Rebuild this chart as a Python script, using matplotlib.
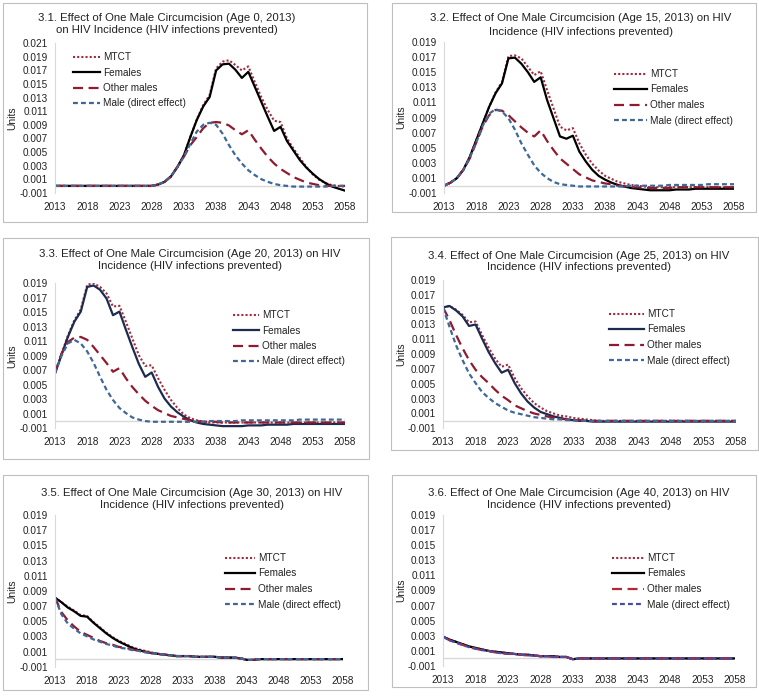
import numpy as np
import matplotlib
matplotlib.use('Agg')
import matplotlib.pyplot as plt
from matplotlib.patches import Rectangle

plt.rcParams['font.family'] = ['Liberation Sans', 'DejaVu Sans']

W, H = 759, 698

years = list(range(2013, 2059))
year_ticks = [2013, 2018, 2023, 2028, 2033, 2038, 2043, 2048, 2053, 2058]
labels = ['MTCT', 'Females', 'Other males', 'Male (direct effect)']

titles = [
    ('3.1. Effect of One Male Circumcision (Age 0, 2013)', 'on HIV Incidence (HIV infections prevented)'),
    ('3.2. Effect of One Male Circumcision (Age 15, 2013) on HIV', 'Incidence (HIV infections prevented)'),
    ('3.3. Effect of One Male Circumcision (Age 20, 2013) on HIV', 'Incidence (HIV infections prevented)'),
    ('3.4. Effect of One Male Circumcision (Age 25, 2013) on HIV', 'Incidence (HIV infections prevented)'),
    ('3.5. Effect of One Male Circumcision (Age 30, 2013) on HIV', 'Incidence (HIV infections prevented)'),
    ('3.6. Effect of One Male Circumcision (Age 40, 2013) on HIV', 'Incidence (HIV infections prevented)'),
]

# --- 3.1 age 0 ---
mtct_1 = [0.0, 0.0, 0.0, 0.0, 0.0, 0.0, 0.0, 0.0, 0.0, 0.0, 0.0, 0.0, 0.0, 0.0, 0.0,
          0.0, 0.0002, 0.0006, 0.0014, 0.0028, 0.0045, 0.0072, 0.0098, 0.0119, 0.0134, 0.0173,
          0.0183, 0.0185, 0.0178, 0.0170, 0.0176, 0.0153, 0.0131, 0.0112, 0.0096, 0.0094,
          0.0070, 0.0055, 0.0041, 0.0028, 0.0017, 0.0009, 0.0004, 0.0001, 0.0, -0.0001]
fem_1 = [0.0, 0.0, 0.0, 0.0, 0.0, 0.0, 0.0, 0.0, 0.0, 0.0, 0.0, 0.0, 0.0, 0.0, 0.0,
         0.0, 0.0002, 0.0006, 0.0014, 0.0028, 0.0045, 0.0072, 0.0097, 0.0117, 0.0131, 0.0170,
         0.0179, 0.0180, 0.0171, 0.0159, 0.0168, 0.0146, 0.0124, 0.0102, 0.0081, 0.0087,
         0.0066, 0.0052, 0.0038, 0.0027, 0.0018, 0.0010, 0.0004, -0.0001, -0.0004, -0.0007]
oth_1 = [0.0, 0.0, 0.0, 0.0, 0.0, 0.0, 0.0, 0.0, 0.0, 0.0, 0.0, 0.0, 0.0, 0.0, 0.0,
         0.0, 0.0002, 0.0006, 0.0014, 0.0028, 0.0043, 0.0060, 0.0072, 0.0085, 0.0093, 0.0094,
         0.0093, 0.0089, 0.0082, 0.0076, 0.0082, 0.0068, 0.0055, 0.0043, 0.0033, 0.0025,
         0.0019, 0.0013, 0.0009, 0.0005, 0.0003, 0.0001, 0.0, 0.0, 0.0, 0.0]
male_1 = [0.0, 0.0, 0.0, 0.0, 0.0, 0.0, 0.0, 0.0, 0.0, 0.0, 0.0, 0.0, 0.0, 0.0, 0.0,
          0.0, 0.0002, 0.0006, 0.0014, 0.0028, 0.0043, 0.0062, 0.0080, 0.0090, 0.0093, 0.0090,
          0.0077, 0.0060, 0.0045, 0.0033, 0.0023, 0.0016, 0.0010, 0.0006, 0.0003, 0.0001,
          0.0, -0.0001, -0.0001, -0.0001, -0.0001, -0.0001, -0.0001, 0.0, 0.0, 0.0]

# --- 3.2 age 15 ---
mtct_2 = [0.0, 0.0004, 0.0010, 0.0021, 0.0038, 0.0060, 0.0082, 0.0104, 0.0123, 0.0137,
          0.0171, 0.0172, 0.0168, 0.0157, 0.0146, 0.0151, 0.0126, 0.0102, 0.0078, 0.0073,
          0.0076, 0.0056, 0.0041, 0.0029, 0.0020, 0.0013, 0.0009, 0.0005, 0.0003, 0.0001,
          0.0, -0.0001, -0.0002, -0.0002, -0.0002, -0.0002, -0.0002, -0.0002, -0.0002,
          -0.0002, -0.0002, -0.0002, -0.0002, -0.0002, -0.0002, -0.0002]
fem_2 = [0.0, 0.0004, 0.0010, 0.0021, 0.0038, 0.0060, 0.0082, 0.0104, 0.0122, 0.0135,
         0.0168, 0.0169, 0.0161, 0.0150, 0.0137, 0.0143, 0.0113, 0.0089, 0.0065, 0.0062,
         0.0066, 0.0045, 0.0032, 0.0021, 0.0013, 0.0008, 0.0004, 0.0001, -0.0001, -0.0003,
         -0.0004, -0.0005, -0.0006, -0.0006, -0.0006, -0.0006, -0.0005, -0.0005, -0.0005,
         -0.0004, -0.0004, -0.0004, -0.0004, -0.0004, -0.0004, -0.0004]
oth_2 = [0.0, 0.0004, 0.0010, 0.0021, 0.0036, 0.0057, 0.0078, 0.0093, 0.0100, 0.0099,
         0.0093, 0.0085, 0.0077, 0.0070, 0.0065, 0.0073, 0.0059, 0.0047, 0.0036, 0.0029,
         0.0022, 0.0015, 0.0011, 0.0007, 0.0005, 0.0003, 0.0002, 0.0, -0.0001, -0.0002,
         -0.0002, -0.0003, -0.0003, -0.0003, -0.0003, -0.0003, -0.0002, -0.0002, -0.0002,
         -0.0002, -0.0002, -0.0002, -0.0002, -0.0002, -0.0002, -0.0002]
male_2 = [0.0, 0.0004, 0.0010, 0.0021, 0.0037, 0.0057, 0.0079, 0.0095, 0.0101, 0.0098,
          0.0089, 0.0074, 0.0056, 0.0041, 0.0027, 0.0017, 0.0010, 0.0005, 0.0002, 0.0001,
          0.0, -0.0001, -0.0001, -0.0001, -0.0001, -0.0001, -0.0001, -0.0001, -0.0001, 0.0,
          0.0, 0.0, 0.0, 0.0, 0.0, 0.0001, 0.0001, 0.0001, 0.0001, 0.0001,
          0.0001, 0.0002, 0.0002, 0.0002, 0.0002, 0.0002]

# --- 3.3 age 20 ---
mtct_3 = [0.0066, 0.0092, 0.0118, 0.0139, 0.0154, 0.0188, 0.0190, 0.0185, 0.0176, 0.0158,
          0.0159, 0.0137, 0.0114, 0.0091, 0.0076, 0.0077, 0.0059, 0.0043, 0.0029, 0.0018,
          0.0009, 0.0004, 0.0001, -0.0001, -0.0002, -0.0002, -0.0002, -0.0002, -0.0002, -0.0002,
          -0.0002, -0.0002, -0.0002, -0.0002, -0.0002, -0.0002, -0.0002, -0.0002, -0.0002,
          -0.0002, -0.0002, -0.0002, -0.0002, -0.0002, -0.0002, -0.0002]
fem_3 = [0.0066, 0.0091, 0.0116, 0.0137, 0.0151, 0.0185, 0.0187, 0.0181, 0.0169, 0.0146,
         0.0151, 0.0126, 0.0102, 0.0079, 0.0061, 0.0067, 0.0047, 0.0031, 0.0020, 0.0012,
         0.0006, 0.0001, -0.0002, -0.0004, -0.0005, -0.0006, -0.0007, -0.0007, -0.0007, -0.0007,
         -0.0006, -0.0006, -0.0006, -0.0005, -0.0005, -0.0005, -0.0005, -0.0004, -0.0004,
         -0.0004, -0.0004, -0.0004, -0.0004, -0.0004, -0.0004, -0.0004]
oth_3 = [0.0066, 0.0093, 0.0109, 0.0115, 0.0116, 0.0112, 0.0102, 0.0091, 0.0080, 0.0068,
         0.0073, 0.0059, 0.0047, 0.0037, 0.0028, 0.0021, 0.0015, 0.0011, 0.0007, 0.0005,
         0.0003, 0.0001, 0.0, -0.0001, -0.0001, -0.0001, -0.0002, -0.0002, -0.0002, -0.0002,
         -0.0002, -0.0002, -0.0002, -0.0002, -0.0002, -0.0002, -0.0002, -0.0002, -0.0002,
         -0.0002, -0.0002, -0.0002, -0.0002, -0.0002, -0.0002, -0.0002]
male_3 = [0.0066, 0.0090, 0.0107, 0.0112, 0.0107, 0.0096, 0.0080, 0.0061, 0.0043, 0.0029,
          0.0018, 0.0011, 0.0005, 0.0002, 0.0, -0.0001, -0.0001, -0.0001, -0.0001, -0.0001,
          -0.0001, -0.0001, -0.0001, -0.0001, 0.0, 0.0, 0.0, 0.0, 0.0, 0.0001,
          0.0001, 0.0001, 0.0001, 0.0001, 0.0001, 0.0001, 0.0001, 0.0001, 0.0002,
          0.0002, 0.0002, 0.0002, 0.0002, 0.0002, 0.0002, 0.0002]

# --- 3.4 age 25 ---
mtct_4 = [0.0153, 0.0155, 0.0150, 0.0143, 0.0133, 0.0134, 0.0116, 0.0099, 0.0084, 0.0073,
          0.0076, 0.0058, 0.0044, 0.0033, 0.0024, 0.0018, 0.0013, 0.0010, 0.0007, 0.0006,
          0.0004, 0.0003, 0.0002, 0.0001, 0.0, 0.0, 0.0, 0.0, 0.0, 0.0,
          0.0, 0.0, 0.0, 0.0, 0.0, 0.0, 0.0, 0.0, 0.0, 0.0, 0.0, 0.0, 0.0, 0.0, 0.0, 0.0]
fem_4 = [0.0153, 0.0155, 0.0149, 0.0141, 0.0128, 0.0130, 0.0111, 0.0093, 0.0078, 0.0065,
         0.0069, 0.0051, 0.0037, 0.0026, 0.0018, 0.0012, 0.0009, 0.0006, 0.0004, 0.0002,
         0.0001, 0.0, 0.0, -0.0001, -0.0001, -0.0001, -0.0001, -0.0001, -0.0001, -0.0001,
         -0.0001, -0.0001, -0.0001, -0.0001, -0.0001, -0.0001, -0.0001, -0.0001, -0.0001,
         -0.0001, -0.0001, -0.0001, -0.0001, -0.0001, -0.0001, -0.0001]
oth_4 = [0.0153, 0.0136, 0.0116, 0.0098, 0.0082, 0.0069, 0.0059, 0.0051, 0.0042, 0.0034,
         0.0028, 0.0021, 0.0017, 0.0013, 0.0010, 0.0008, 0.0006, 0.0004, 0.0003, 0.0002,
         0.0001, 0.0001, 0.0, 0.0, 0.0, 0.0, 0.0, 0.0, 0.0, 0.0,
         0.0, 0.0, 0.0, 0.0, 0.0, 0.0, 0.0, 0.0, 0.0, 0.0, 0.0, 0.0, 0.0, 0.0, 0.0, 0.0]
male_4 = [0.0153, 0.0127, 0.0102, 0.0082, 0.0064, 0.0051, 0.0039, 0.0031, 0.0024, 0.0019,
          0.0014, 0.0011, 0.0009, 0.0007, 0.0005, 0.0004, 0.0003, 0.0002, 0.0002, 0.0001,
          0.0001, 0.0, 0.0, 0.0, 0.0, 0.0, 0.0, 0.0, 0.0, 0.0,
          0.0, 0.0, 0.0, 0.0, 0.0, 0.0, 0.0, 0.0, 0.0, 0.0, 0.0, 0.0, 0.0, 0.0, 0.0, 0.0]

# --- 3.5 age 30 ---
mtct_5 = [0.0081, 0.0075, 0.0069, 0.0064, 0.0058, 0.0057, 0.0049, 0.0042, 0.0035, 0.0029,
          0.0024, 0.0020, 0.0016, 0.0013, 0.0011, 0.0009, 0.0007, 0.0006, 0.0005, 0.0004,
          0.0004, 0.0004, 0.0003, 0.0003, 0.0003, 0.0003, 0.0002, 0.0002, 0.0002, 0.0001,
          -0.0001, -0.0001, 0.0, 0.0, 0.0, 0.0, 0.0, 0.0, 0.0, 0.0, 0.0, 0.0, 0.0, 0.0, 0.0, 0.0]
fem_5 = [0.0081, 0.0075, 0.0068, 0.0063, 0.0057, 0.0056, 0.0048, 0.0041, 0.0034, 0.0028,
         0.0023, 0.0019, 0.0015, 0.0012, 0.0010, 0.0008, 0.0007, 0.0006, 0.0005, 0.0004,
         0.0004, 0.0004, 0.0003, 0.0003, 0.0003, 0.0003, 0.0002, 0.0002, 0.0002, 0.0001,
         -0.0001, -0.0001, 0.0, 0.0, 0.0, 0.0, 0.0, 0.0, 0.0, 0.0, 0.0, 0.0, 0.0, 0.0, 0.0, 0.0]
oth_5 = [0.0081, 0.0062, 0.0051, 0.0043, 0.0036, 0.0032, 0.0028, 0.0024, 0.0021, 0.0019,
         0.0016, 0.0015, 0.0013, 0.0011, 0.0010, 0.0008, 0.0007, 0.0006, 0.0005, 0.0004,
         0.0004, 0.0004, 0.0003, 0.0003, 0.0003, 0.0003, 0.0002, 0.0002, 0.0002, 0.0001,
         -0.0001, -0.0001, 0.0, 0.0, 0.0, 0.0, 0.0, 0.0, 0.0, 0.0, 0.0, 0.0, 0.0, 0.0, 0.0, 0.0]
male_5 = [0.0081, 0.0059, 0.0047, 0.0040, 0.0034, 0.0030, 0.0026, 0.0023, 0.0020, 0.0018,
          0.0015, 0.0014, 0.0012, 0.0011, 0.0009, 0.0008, 0.0007, 0.0006, 0.0005, 0.0004,
          0.0004, 0.0004, 0.0003, 0.0003, 0.0003, 0.0003, 0.0002, 0.0002, 0.0002, 0.0001,
          -0.0001, -0.0001, 0.0, 0.0, 0.0, 0.0, 0.0, 0.0, 0.0, 0.0, 0.0, 0.0, 0.0, 0.0, 0.0, 0.0]

# --- 3.6 age 40 ---
mtct_6 = [0.0029, 0.0025, 0.0022, 0.0019, 0.0016, 0.0014, 0.0012, 0.0010, 0.0009, 0.0008,
          0.0007, 0.0006, 0.0005, 0.0005, 0.0004, 0.0003, 0.0003, 0.0003, 0.0002, 0.0002,
          -0.0001, 0.0, 0.0, 0.0, 0.0, 0.0, 0.0, 0.0, 0.0, 0.0,
          0.0, 0.0, 0.0, 0.0, 0.0, 0.0, 0.0, 0.0, 0.0, 0.0, 0.0, 0.0, 0.0, 0.0, 0.0, 0.0]
fem_6 = [0.0029, 0.0025, 0.0022, 0.0019, 0.0016, 0.0014, 0.0012, 0.0010, 0.0009, 0.0008,
         0.0007, 0.0006, 0.0005, 0.0005, 0.0004, 0.0003, 0.0003, 0.0003, 0.0002, 0.0002,
         -0.0001, 0.0, 0.0, 0.0, 0.0, 0.0, 0.0, 0.0, 0.0, 0.0,
         0.0, 0.0, 0.0, 0.0, 0.0, 0.0, 0.0, 0.0, 0.0, 0.0, 0.0, 0.0, 0.0, 0.0, 0.0, 0.0]
oth_6 = [0.0029, 0.0024, 0.0021, 0.0018, 0.0015, 0.0013, 0.0011, 0.0010, 0.0008, 0.0007,
         0.0006, 0.0006, 0.0005, 0.0004, 0.0004, 0.0003, 0.0003, 0.0002, 0.0002, 0.0002,
         -0.0001, 0.0, 0.0, 0.0, 0.0, 0.0, 0.0, 0.0, 0.0, 0.0,
         0.0, 0.0, 0.0, 0.0, 0.0, 0.0, 0.0, 0.0, 0.0, 0.0, 0.0, 0.0, 0.0, 0.0, 0.0, 0.0]
male_6 = [0.0029, 0.0024, 0.0021, 0.0018, 0.0015, 0.0013, 0.0011, 0.0010, 0.0008, 0.0007,
          0.0006, 0.0006, 0.0005, 0.0004, 0.0004, 0.0003, 0.0003, 0.0002, 0.0002, 0.0002,
          -0.0001, 0.0, 0.0, 0.0, 0.0, 0.0, 0.0, 0.0, 0.0, 0.0,
          0.0, 0.0, 0.0, 0.0, 0.0, 0.0, 0.0, 0.0, 0.0, 0.0, 0.0, 0.0, 0.0, 0.0, 0.0, 0.0]

series = [
    (mtct_1, fem_1, oth_1, male_1),
    (mtct_2, fem_2, oth_2, male_2),
    (mtct_3, fem_3, oth_3, male_3),
    (mtct_4, fem_4, oth_4, male_4),
    (mtct_5, fem_5, oth_5, male_5),
    (mtct_6, fem_6, oth_6, male_6),
]

# layout in pixels: box (l,t,r,b), plot (l,t,r,b), ymax, title center x, title y's,
# units x, legend (x, y top, handlelength px)
layout = [
    dict(box=(3, 3, 367, 222), plot=(55, 43.3, 345, 192.7), ymax=0.021, tx=167, ty=(18, 30),
         ux=12, leg=(73, 52, 27)),
    dict(box=(392, 3, 756, 212), plot=(444, 41.7, 734, 193.3), ymax=0.019, tx=581, ty=(18, 32),
         ux=401, leg=(614, 69, 33)),
    dict(box=(3, 238, 369, 459), plot=(55, 283.3, 345, 428.3), ymax=0.019, tx=190, ty=(254, 266),
         ux=12, leg=(233, 310, 26)),
    dict(box=(391, 237, 758, 450), plot=(443, 280, 736, 428.3), ymax=0.019, tx=579, ty=(256, 267),
         ux=401, leg=(609, 309, 35)),
    dict(box=(3, 475, 368, 690), plot=(55, 515, 343, 666.7), ymax=0.019, tx=192, ty=(493, 505),
         ux=12, leg=(225, 553, 30)),
    dict(box=(392, 475, 756, 687), plot=(443, 515, 735, 666), ymax=0.019, tx=579, ty=(493, 505),
         ux=401, leg=(612, 553, 32)),
]

red_dot = '#A02B3F'
red_dash = '#8E1B2E'
blue_dash = '#3F6899'
colors = [
    (red_dot, 'black', red_dash, blue_dash),
    (red_dot, 'black', red_dash, blue_dash),
    (red_dot, '#1C2B4E', red_dash, blue_dash),
    (red_dot, '#1C2B4E', red_dash, blue_dash),
    (red_dot, 'black', red_dash, blue_dash),
    (red_dot, 'black', '#B02A35', '#4B4BA6'),
]

fig = plt.figure(figsize=(W / 100, H / 100), dpi=100)
fs_tick = 7.2
fs_title = 8.2

for i, lay in enumerate(layout):
    bl, bt, br, bb = lay['box']
    fig.patches.append(Rectangle((bl / W, 1 - bb / H), (br - bl) / W, (bb - bt) / H,
                                 transform=fig.transFigure, fill=False,
                                 edgecolor='#BFBFBF', linewidth=0.8))
    pl, pt, pr, pb = lay['plot']
    ax = fig.add_axes([pl / W, 1 - pb / H, (pr - pl) / W, (pb - pt) / H])

    mt, fe, ot, ma = series[i]
    c = colors[i]
    ax.plot(years, mt, color=c[0], lw=1.5, linestyle=(0, (1, 1)), label=labels[0])
    ax.plot(years, fe, color=c[1], lw=1.6, label=labels[1])
    ax.plot(years, ot, color=c[2], lw=1.6, linestyle=(0, (4.5, 2.5)), label=labels[2])
    ax.plot(years, ma, color=c[3], lw=1.6, linestyle=(0, (2.2, 1.4)), label=labels[3])

    ax.axhline(0, color='#D9D9D9', lw=1.0, zorder=0)
    ax.set_xlim(2013, 2058)
    ax.set_ylim(-0.001, lay['ymax'])
    yt = np.arange(-0.001, lay['ymax'] + 0.0005, 0.002)
    ax.set_yticks(yt)
    ax.set_yticklabels(['%.3f' % v for v in yt])
    ax.set_xticks(year_ticks)
    ax.tick_params(length=0, labelsize=fs_tick, colors='#222222')
    ax.tick_params(axis='y', pad=5)
    ax.tick_params(axis='x', pad=6.5)
    for s in ['top', 'right', 'bottom']:
        ax.spines[s].set_visible(False)
    ax.spines['left'].set_color('#D9D9D9')
    ax.spines['left'].set_linewidth(0.8)
    ax.patch.set_alpha(0)

    fig.text(lay['tx'] / W, 1 - lay['ty'][0] / H, titles[i][0], ha='center', va='center',
             fontsize=fs_title, color='#222222')
    fig.text(lay['tx'] / W, 1 - lay['ty'][1] / H, titles[i][1], ha='center', va='center',
             fontsize=fs_title, color='#222222')
    fig.text(lay['ux'] / W, 1 - ((pt + pb) / 2) / H, 'Units', rotation=90, ha='center',
             va='center', fontsize=fs_tick + 0.3, color='#222222')

    lx, ly, hl = lay['leg']
    fpx = fs_tick * 100 / 72
    ax.legend(loc='upper left', bbox_to_anchor=(lx / W, 1 - ly / H),
              bbox_transform=fig.transFigure, frameon=False, fontsize=fs_tick,
              handlelength=hl / fpx, handletextpad=0.3, labelspacing=0.55,
              borderpad=0, borderaxespad=0, labelcolor='#222222')

fig.savefig('out.png', dpi=100)
